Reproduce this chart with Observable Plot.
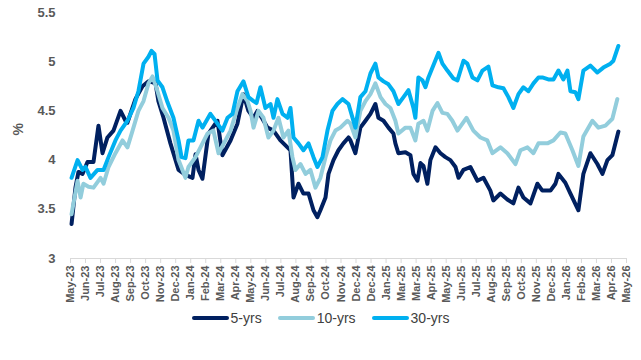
<!DOCTYPE html>
<html>
<head>
<meta charset="utf-8">
<script src="https://cdn.jsdelivr.net/npm/d3@7"></script>
<script src="https://cdn.jsdelivr.net/npm/@observablehq/plot@0.6"></script>
<style>
  html, body { margin: 0; padding: 0; background: #fff; }
  #chart { width: 641px; }
  .legend { display: flex; justify-content: center; align-items: center; height: 26px; font-family: "Liberation Sans", Arial, sans-serif; font-size: 14px; color: #404040; }
  .legend .item { display: flex; align-items: center; margin: 0 8px; }
  .legend .sw { width: 37px; height: 4px; border-radius: 2px; margin-right: 2px; }
</style>
</head>
<body>
<div id="chart"></div>
<script>
// Tick labels (category axis, one per tick interval)
const monthLabels = ["May-23","Jun-23","Jul-23","Aug-23","Sep-23","Oct-23","Nov-23","Dec-23","Jan-24","Feb-24","Mar-24","Apr-24","May-24","Jun-24","Jul-24","Aug-24","Sep-24","Oct-24","Nov-24","Dec-24","Dec-24","Jan-25","Mar-25","Mar-25","Apr-25","May-25","Jun-25","Jul-25","Aug-25","Sep-25","Oct-25","Nov-25","Dec-25","Jan-26","Feb-26","Mar-26","Apr-26","May-26"];
const yTicks = [3, 3.5, 4, 4.5, 5, 5.5];
const seriesNames = ["5-yrs", "10-yrs", "30-yrs"];
const seriesColors = ["#002060", "#92cddc", "#00b0f0"];

// [position in tick intervals since May-23, yield %]
const fiveYr = [[0.07,3.35],[0.33,3.72],[0.53,3.88],[0.80,3.86],[1.13,3.98],[1.53,3.98],[1.86,4.35],[2.13,4.07],[2.46,4.23],[2.86,4.30],[3.33,4.50],[3.66,4.40],[3.79,4.38],[4.32,4.62],[4.79,4.75],[5.19,4.80],[5.46,4.79],[5.66,4.78],[5.85,4.60],[6.19,4.43],[6.65,4.17],[7.19,3.90],[7.65,3.85],[8.12,3.82],[8.32,4.06],[8.52,3.90],[8.78,3.81],[9.18,4.27],[9.78,4.40],[10.11,4.05],[10.65,4.20],[11.11,4.37],[11.51,4.67],[11.84,4.50],[12.18,4.43],[12.44,4.50],[12.77,4.42],[13.11,4.33],[13.51,4.30],[13.97,4.20],[14.44,4.13],[14.64,4.10],[14.84,3.62],[15.17,3.76],[15.50,3.66],[15.84,3.66],[16.17,3.49],[16.43,3.42],[16.63,3.49],[16.97,3.62],[17.17,3.86],[17.50,4.00],[17.83,4.10],[18.16,4.17],[18.50,4.23],[18.63,4.20],[18.96,4.07],[19.29,4.33],[19.63,4.40],[19.96,4.47],[20.29,4.57],[20.49,4.43],[20.83,4.40],[21.16,4.33],[21.49,4.27],[21.62,4.17],[21.82,4.07],[22.29,4.08],[22.62,4.05],[22.82,3.86],[23.09,3.79],[23.29,3.97],[23.49,3.94],[23.75,3.76],[23.95,4.00],[24.29,4.13],[24.62,4.07],[24.95,4.03],[25.28,4.00],[25.62,3.93],[25.82,3.82],[26.15,3.90],[26.61,3.93],[27.08,3.79],[27.48,3.82],[27.94,3.69],[28.14,3.59],[28.61,3.66],[29.07,3.60],[29.47,3.56],[29.81,3.72],[30.14,3.62],[30.61,3.56],[31.07,3.76],[31.40,3.69],[31.94,3.69],[32.27,3.76],[32.47,3.86],[32.93,3.77],[33.27,3.66],[33.80,3.49],[34.13,3.86],[34.60,4.07],[35.06,3.96],[35.40,3.86],[35.73,4.00],[36.06,4.05],[36.46,4.29]];

const tenYr = [[0.07,3.45],[0.47,3.79],[0.67,3.62],[0.86,3.76],[1.20,3.73],[1.53,3.72],[2.00,3.82],[2.20,3.76],[2.53,3.93],[2.99,4.07],[3.46,4.20],[3.79,4.13],[4.13,4.30],[4.52,4.50],[4.86,4.60],[5.19,4.78],[5.46,4.85],[5.79,4.70],[6.12,4.53],[6.52,4.43],[6.85,4.30],[7.19,4.00],[7.65,3.82],[7.85,3.93],[8.32,4.03],[8.65,4.13],[9.12,4.27],[9.51,4.30],[9.85,4.07],[10.31,4.20],[10.65,4.30],[11.11,4.53],[11.44,4.67],[11.78,4.60],[11.98,4.50],[12.18,4.33],[12.51,4.50],[12.84,4.43],[13.17,4.23],[13.51,4.30],[13.84,4.43],[14.17,4.23],[14.50,4.30],[14.77,4.03],[14.97,3.90],[15.30,3.96],[15.64,3.86],[15.97,3.90],[16.30,3.72],[16.63,3.82],[16.97,4.03],[17.30,4.20],[17.63,4.30],[17.96,4.33],[18.43,4.40],[18.63,4.37],[18.96,4.23],[19.29,4.50],[19.63,4.60],[19.96,4.67],[20.29,4.78],[20.63,4.64],[20.96,4.57],[21.29,4.53],[21.62,4.40],[21.82,4.27],[22.29,4.33],[22.62,4.33],[22.95,4.20],[23.15,4.37],[23.49,4.40],[23.75,4.30],[24.09,4.50],[24.42,4.58],[24.75,4.48],[25.08,4.47],[25.41,4.40],[25.75,4.30],[26.08,4.37],[26.35,4.43],[26.81,4.30],[27.28,4.23],[27.74,4.20],[28.08,4.07],[28.61,4.13],[29.07,4.07],[29.61,3.96],[29.94,4.10],[30.41,4.13],[30.81,4.07],[31.14,4.17],[31.74,4.17],[32.14,4.20],[32.60,4.28],[32.93,4.27],[33.40,4.10],[33.80,3.94],[34.13,4.24],[34.73,4.40],[35.13,4.33],[35.60,4.35],[36.06,4.42],[36.39,4.62]];

const thirtyYr = [[0.07,3.82],[0.47,4.00],[0.80,3.90],[1.00,3.93],[1.33,3.82],[1.80,3.90],[2.20,3.90],[2.53,4.03],[2.99,4.20],[3.33,4.30],[3.79,4.40],[4.19,4.53],[4.52,4.70],[4.86,4.98],[5.19,5.05],[5.39,5.11],[5.59,5.08],[5.79,4.81],[6.12,4.74],[6.45,4.59],[6.85,4.43],[7.19,4.20],[7.39,4.03],[7.65,4.02],[7.85,4.20],[8.18,4.20],[8.52,4.40],[8.78,4.33],[9.31,4.47],[9.78,4.37],[10.11,4.30],[10.45,4.43],[10.78,4.47],[11.11,4.70],[11.51,4.80],[11.84,4.64],[12.18,4.60],[12.38,4.58],[12.64,4.74],[12.97,4.53],[13.31,4.57],[13.51,4.43],[13.77,4.62],[14.11,4.47],[14.44,4.43],[14.64,4.53],[14.84,4.23],[15.17,4.17],[15.50,4.10],[15.84,4.17],[16.17,4.03],[16.43,3.93],[16.77,4.03],[17.10,4.30],[17.43,4.50],[17.76,4.57],[18.10,4.62],[18.50,4.57],[18.96,4.33],[19.29,4.64],[19.63,4.70],[19.96,4.88],[20.29,4.98],[20.49,4.84],[20.83,4.80],[21.16,4.77],[21.49,4.70],[21.82,4.57],[22.16,4.64],[22.49,4.71],[22.82,4.53],[22.95,4.43],[23.15,4.84],[23.42,4.81],[23.62,4.74],[23.82,4.84],[24.09,4.94],[24.49,5.09],[24.75,4.98],[25.08,4.91],[25.48,4.83],[25.75,4.81],[26.15,5.01],[26.41,4.98],[26.75,4.84],[27.08,4.81],[27.41,4.91],[27.81,4.95],[28.08,4.76],[28.48,4.74],[28.81,4.73],[29.14,4.64],[29.47,4.53],[29.81,4.67],[30.14,4.74],[30.47,4.70],[30.81,4.78],[31.14,4.84],[31.40,4.84],[31.80,4.82],[32.14,4.82],[32.47,4.91],[32.80,4.82],[33.07,4.91],[33.27,4.70],[33.60,4.69],[33.80,4.62],[34.13,4.91],[34.60,4.96],[35.06,4.89],[35.46,4.94],[35.93,4.98],[36.13,5.01],[36.46,5.16]];

const rows = [];
[[seriesNames[0], fiveYr], [seriesNames[1], tenYr], [seriesNames[2], thirtyYr]].forEach(([name, arr]) => {
  arr.forEach(([t, v]) => rows.push({series: name, t, v}));
});

const font = '"Liberation Sans", Arial, sans-serif';
const chart = Plot.plot({
  width: 641,
  height: 305,
  marginLeft: 70,
  marginRight: 15,
  marginTop: 12,
  marginBottom: 47,
  style: {fontFamily: font, background: "#fff"},
  x: {domain: [0, monthLabels.length - 1]},
  y: {domain: [3, 5.5]},
  color: {domain: seriesNames, range: seriesColors},
  marks: [
    Plot.ruleY([3], {stroke: "#d9d9d9", strokeWidth: 1}),
    Plot.axisY({ticks: yTicks, tickSize: 0, tickPadding: 15, tickFormat: d => String(d), label: null, fill: "#595959", fontWeight: "bold", fontSize: 13}),
    Plot.axisX({ticks: d3.range(monthLabels.length), tickFormat: i => monthLabels[i], tickRotate: -90, tickSize: 5, tickPadding: 2, stroke: "#d9d9d9", label: null, fill: "#595959", fontWeight: "bold", fontSize: 11}),
    Plot.line(rows, {x: "t", y: "v", z: "series", stroke: "series", strokeWidth: 4, strokeLinejoin: "round", strokeLinecap: "round"}),
    Plot.text(["%"], {frameAnchor: "left", dx: -52, rotate: -90, fill: "#595959", fontWeight: "bold", fontSize: 14})
  ]
});
document.getElementById("chart").appendChild(chart);

const legend = document.createElement("div");
legend.className = "legend";
seriesNames.forEach((n, i) => {
  const item = document.createElement("div");
  item.className = "item";
  const sw = document.createElement("span");
  sw.className = "sw";
  sw.style.background = seriesColors[i];
  const lab = document.createElement("span");
  lab.textContent = n;
  item.appendChild(sw);
  item.appendChild(lab);
  legend.appendChild(item);
});
document.getElementById("chart").appendChild(legend);
</script>
</body>
</html>
